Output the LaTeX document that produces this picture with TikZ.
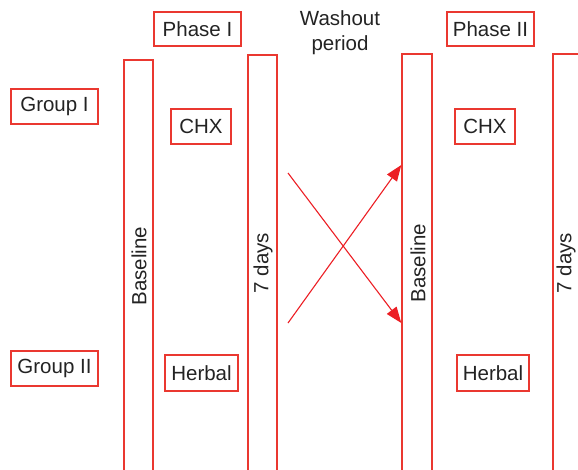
\documentclass[tikz,border=0pt]{standalone}
\usepackage{fontspec}
\setmainfont{Liberation Sans}
\usetikzlibrary{arrows.meta}
\definecolor{boxred}{RGB}{234,56,48}
\definecolor{arrred}{RGB}{236,30,36}
\definecolor{txt}{RGB}{35,35,35}
\begin{document}
\begin{tikzpicture}[x=1pt,y=-1pt,
  lbl/.style={draw=boxred,line width=1.4pt,inner sep=0pt,text=txt,font=\fontsize{20.5}{24}\selectfont},
  bar/.style={draw=boxred,line width=1.4pt,inner sep=0pt},
  vtxt/.style={rotate=90,text=txt,font=\fontsize{20.5}{24}\selectfont,inner sep=0pt},
  arr/.style={draw=arrred,line width=1.1pt,-{Triangle[length=16pt,width=12pt]}}]
\useasboundingbox (0,0) rectangle (578,469);
\clip (0,0) rectangle (578,469);
% top labels
\node[lbl,minimum width=87pt,minimum height=34pt] (ph1) at (197.5,29) {Phase I};
\node[lbl,minimum width=87pt,minimum height=34pt] (ph2) at (490.5,29) {Phase II};
\node[text=txt,font=\fontsize{20.5}{25}\selectfont,align=center,inner sep=0pt] (wash) at (340,33) {Washout\\period};
% groups
\node[lbl,minimum width=87pt,minimum height=35pt] (g1) at (54.5,106.5) {Group I};
\node[lbl,minimum width=87pt,minimum height=35pt] (g2) at (54.5,368.5) {Group II};
% treatments
\node[lbl,minimum width=60pt,minimum height=35pt] (chx1) at (201,126.5) {CHX};
\node[lbl,minimum width=60pt,minimum height=35pt] (chx2) at (485,126.5) {CHX};
\node[lbl,minimum width=73pt,minimum height=36pt] (herb1) at (201.5,373) {Herbal};
\node[lbl,minimum width=72pt,minimum height=36pt] (herb2) at (493,373) {Herbal};
% bars
\node[bar,minimum width=29pt,minimum height=420pt] (b1) at (138.5,270) {};
\node[bar,minimum width=29pt,minimum height=425pt] (d1) at (262.5,267.5) {};
\node[bar,minimum width=30pt,minimum height=426pt] (b2) at (417,267) {};
\node[bar,minimum width=29pt,minimum height=426pt] (d2) at (567.5,267) {};
\node[vtxt] (b1t) at (139,266) {Baseline};
\node[vtxt] (d1t) at (263,263) {7 days};
\node[vtxt] (b2t) at (418,263) {Baseline};
\node[vtxt] (d2t) at (566,263) {7 days};
% crossing arrows
\coordinate (s1) at (288,173);
\coordinate (s2) at (288,323);
\coordinate (e1) at (b2.west |- 0,323);
\coordinate (e2) at (b2.west |- 0,165);
\draw[arr] (s1) -- (e1);
\draw[arr] (s2) -- (e2);
\end{tikzpicture}
\end{document}
